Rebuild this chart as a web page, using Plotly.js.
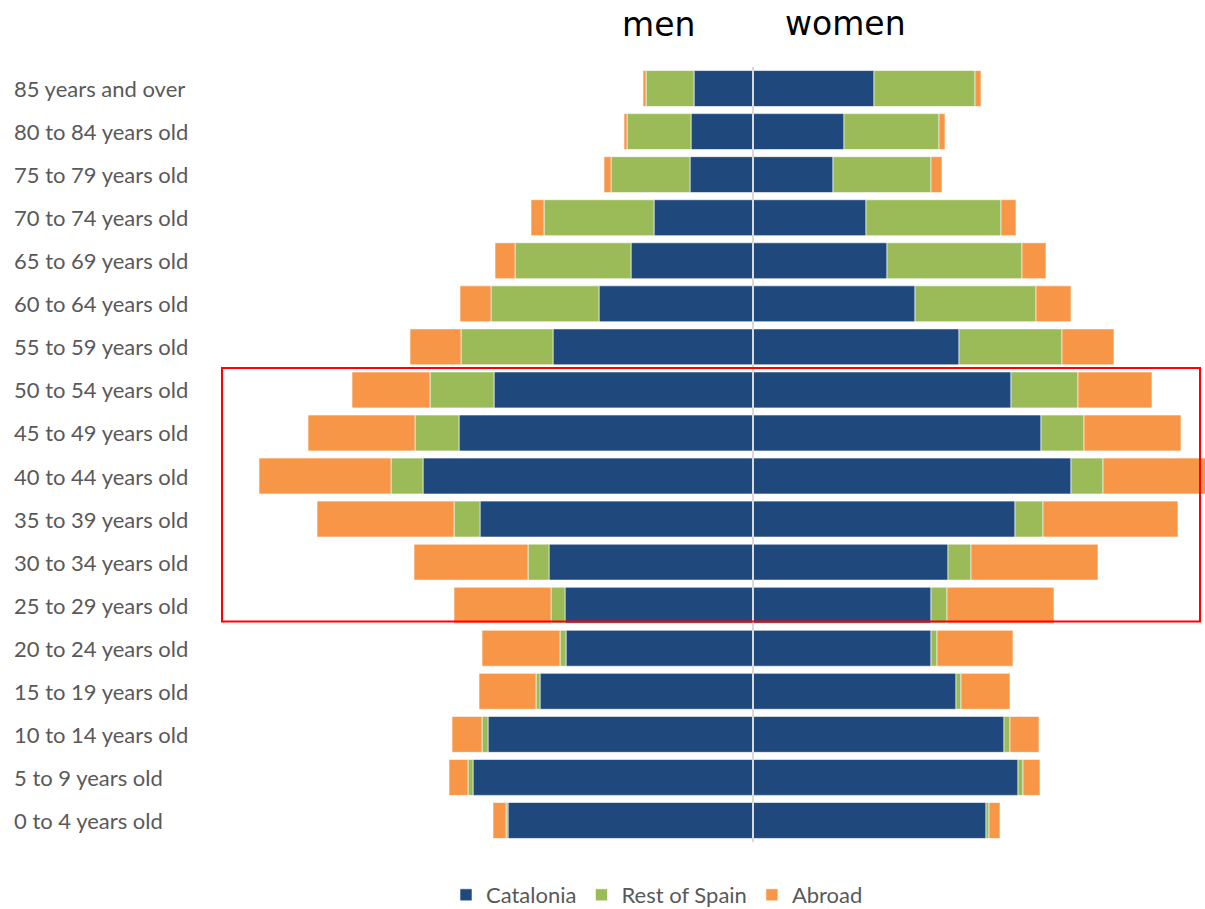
<!DOCTYPE html>
<html>
<head>
<meta charset="utf-8">
<script src="https://cdn.plot.ly/plotly-3.0.1.min.js"></script>
<style>html,body{margin:0;padding:0;background:#fff;}#chart{width:1205px;height:909px;}</style>
</head>
<body>
<div id="chart"></div>
<script>
const ageGroups = ["0 to 4 years old","5 to 9 years old","10 to 14 years old","15 to 19 years old","20 to 24 years old","25 to 29 years old","30 to 34 years old","35 to 39 years old","40 to 44 years old","45 to 49 years old","50 to 54 years old","55 to 59 years old","60 to 64 years old","65 to 69 years old","70 to 74 years old","75 to 79 years old","80 to 84 years old","85 years and over"];

// men (drawn to the left)
const menCatalonia   = [245,280,265,213,187,188,204,273,330,294,259,200,154,122,99,63,62,59];
const menRestOfSpain = [2,5,6,4,6,14,21,26,32,44,64,92,108,116,110,79,64,48];
const menAbroad      = [13,19,30,57,78,97,114,137,132,107,78,51,31,20,13,7,3,3];

// women (drawn to the right)
const womenCatalonia   = [233,265,251,203,178,178,195,262,318,288,258,206,162,134,113,80,91,121];
const womenRestOfSpain = [3,5,6,5,6,16,23,28,32,43,67,103,121,135,135,98,95,101];
const womenAbroad      = [11,17,29,49,76,107,127,135,106,97,74,52,35,24,15,11,6,6];

const seriesNames = ["Catalonia","Rest of Spain","Abroad"];
const seriesColors = ["#1F497D","#9BBB59","#F79646"];

const neg = a => a.map(v => -v);
const menSeries = [menCatalonia, menRestOfSpain, menAbroad];
const womenSeries = [womenCatalonia, womenRestOfSpain, womenAbroad];

const traces = [];
seriesNames.forEach((name, i) => {
  traces.push({
    type: "bar", orientation: "h", name: name, legendgroup: name,
    y: ageGroups, x: neg(menSeries[i]),
    marker: {color: seriesColors[i], line: {color: "rgba(255,255,255,0.6)", width: 1}},
    hoverinfo: "y+name", showlegend: true
  });
  traces.push({
    type: "bar", orientation: "h", name: name, legendgroup: name,
    y: ageGroups, x: womenSeries[i],
    marker: {color: seriesColors[i], line: {color: "rgba(255,255,255,0.6)", width: 1}},
    hoverinfo: "y+name", showlegend: false
  });
});

const W = 1205, H = 909, ML = 222, MR = 0, MT = 66.5, MB = 66.5;
const plotW = W - ML - MR, plotH = H - MT - MB;

const labelFont = {family: "Lato, 'Open Sans', sans-serif", size: 22, color: "#595959"};
const titleFont = {family: "'DejaVu Sans', sans-serif", size: 33, color: "#000"};

const annotations = ageGroups.map(g => ({
  xref: "paper", yref: "y", x: (12 - ML) / plotW, y: g,
  xanchor: "left", yanchor: "middle", showarrow: false,
  text: g, font: labelFont
}));
annotations.push({
  xref: "paper", yref: "paper", x: (658 - ML) / plotW, y: 1 + (MT - 24) / plotH,
  xanchor: "center", yanchor: "middle", showarrow: false, text: "men", font: titleFont
});
annotations.push({
  xref: "paper", yref: "paper", x: (845 - ML) / plotW, y: 1 + (MT - 23) / plotH,
  xanchor: "center", yanchor: "middle", showarrow: false, text: "women", font: titleFont
});

const layout = {
  width: W, height: H,
  margin: {l: ML, r: MR, t: MT, b: MB, pad: 0},
  paper_bgcolor: "#fff", plot_bgcolor: "#fff",
  barmode: "relative", bargap: 0.165,
  showlegend: true,
  legend: {
    orientation: "h", xref: "container", yref: "container",
    x: 657 / W, xanchor: "center", y: 1 - 895 / H, yanchor: "middle",
    font: labelFont, traceorder: "normal", itemwidth: 30,
    bgcolor: "rgba(0,0,0,0)"
  },
  xaxis: {range: [-531, 452], showgrid: false, zeroline: false, showticklabels: false, ticks: "", showline: false, fixedrange: true},
  yaxis: {type: "category", categoryorder: "array", categoryarray: ageGroups, range: [-0.5, 17.5],
          showgrid: false, zeroline: false, showticklabels: false, ticks: "", showline: false, fixedrange: true},
  shapes: [
    {type: "line", xref: "x", yref: "paper", x0: 0, x1: 0, y0: 0, y1: 1, layer: "above",
     line: {color: "#D9D9D9", width: 2}},
    {type: "rect", xref: "paper", yref: "y", x0: 0, x1: (1200 - ML) / plotW, y0: 4.62, y1: 10.51,
     layer: "above", line: {color: "#FF0000", width: 2}, fillcolor: "rgba(0,0,0,0)"}
  ],
  annotations: annotations
};

Plotly.newPlot("chart", traces, layout, {displayModeBar: false, staticPlot: true});
</script>
</body>
</html>
